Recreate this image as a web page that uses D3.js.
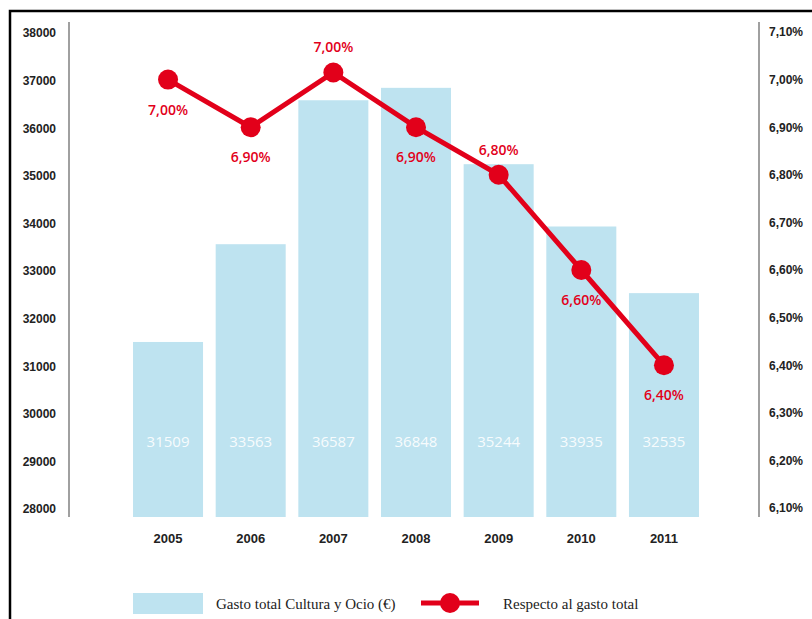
<!DOCTYPE html>
<html lang="es">
<head>
<meta charset="UTF-8">
<title>Gasto Cultura y Ocio</title>
<style>
	body { margin: 0; background: #fff; }
	svg { display: block; font-family: "Open Sans", sans-serif; }
	.tick text { font-size: 12px; font-weight: 600; fill: #222; }
	.legend text { font-family: "Liberation Serif", serif; font-size: 15px; fill: #222; }
</style>
</head>
<body>
<svg></svg>
<script src="https://cdnjs.cloudflare.com/ajax/libs/d3/7.8.5/d3.min.js"></script>
<script>
	// data
	const years = ['2005', '2006', '2007', '2008', '2009', '2010', '2011'];
	const gasto = [31509, 33563, 36587, 36848, 35244, 33935, 32535];
	const porcentaje = [7.00, 6.90, 7.015, 6.90, 6.80, 6.60, 6.40];
	const porcentajeLabels = ['7,00%', '6,90%', '7,00%', '6,90%', '6,80%', '6,60%', '6,40%'];
	const leftTicks = [28000, 29000, 30000, 31000, 32000, 33000, 34000, 35000, 36000, 37000, 38000];
	const rightTicks = [6.1, 6.2, 6.3, 6.4, 6.5, 6.6, 6.7, 6.8, 6.9, 7.0, 7.1];
	const seriesNames = ['Gasto total Cultura y Ocio (€)', 'Respecto al gasto total'];

	const width = 812, height = 619;
	const barColor = '#bee3f0', red = '#e2001a';
	const plotTop = 22, plotBottom = 517, axisL = 69, axisR = 759;

	const svg = d3.select('svg').attr('width', width).attr('height', height);

	// frame
	svg.append('rect')
		.attr('x', 10).attr('y', 11)
		.attr('width', 820).attr('height', 640)
		.attr('fill', 'none').attr('stroke', '#000').attr('stroke-width', 2.5);

	const x = d3.scaleBand().domain(years).range([126.7, 705.3]).paddingInner(0.153).paddingOuter(0.0765);
	const yL = d3.scaleLinear().domain([28000, 38000]).range([509, 33]);
	const yR = d3.scaleLinear().domain([6.1, 7.1]).range([508, 32]);

	// bars
	svg.append('g').selectAll('rect')
		.data(years)
		.join('rect')
		.attr('x', d => x(d))
		.attr('width', x.bandwidth())
		.attr('y', (d, i) => yL(gasto[i]))
		.attr('height', (d, i) => plotBottom - yL(gasto[i]))
		.attr('fill', barColor);

	svg.append('g').selectAll('text')
		.data(years)
		.join('text')
		.attr('x', d => x(d) + x.bandwidth() / 2)
		.attr('y', 442)
		.attr('dy', '0.35em')
		.attr('text-anchor', 'middle')
		.attr('fill', '#fff')
		.attr('fill-opacity', 0.9)
		.style('font-size', '15px')
		.text((d, i) => gasto[i]);

	// axes
	const leftAxis = svg.append('g')
		.attr('transform', `translate(${axisL - 13},0)`)
		.call(d3.axisLeft(yL).tickValues(leftTicks).tickSize(0).tickPadding(0).tickFormat(d3.format('d')));
	leftAxis.select('.domain').remove();

	const rightAxis = svg.append('g')
		.attr('transform', `translate(${axisR + 10},0)`)
		.call(d3.axisRight(yR).tickValues(rightTicks).tickSize(0).tickPadding(0)
			.tickFormat(v => v.toFixed(2).replace('.', ',') + '%'));
	rightAxis.select('.domain').remove();

	[axisL, axisR].forEach(ax => {
		svg.append('line')
			.attr('x1', ax).attr('x2', ax)
			.attr('y1', plotTop).attr('y2', plotBottom)
			.attr('stroke', '#a0a0a0').attr('stroke-width', 2);
	});

	const xAxis = svg.append('g')
		.attr('transform', `translate(0,${538})`)
		.call(d3.axisBottom(x).tickSize(0).tickPadding(0));
	xAxis.select('.domain').remove();
	xAxis.selectAll('.tick text').attr('dy', '0.35em').style('font-size', '13px');

	// line
	const cx = i => x(years[i]) + x.bandwidth() / 2;
	const line = d3.line().x((d, i) => cx(i)).y(d => yR(d));
	svg.append('path')
		.datum(porcentaje)
		.attr('d', line)
		.attr('fill', 'none')
		.attr('stroke', red)
		.attr('stroke-width', 5);

	svg.append('g').selectAll('circle')
		.data(porcentaje)
		.join('circle')
		.attr('cx', (d, i) => cx(i))
		.attr('cy', d => yR(d))
		.attr('r', 10)
		.attr('fill', red);

	// labels above the point where the line peaks, below elsewhere
	const above = i => i === 2 || i === 4;
	svg.append('g').selectAll('text')
		.data(porcentaje)
		.join('text')
		.attr('x', (d, i) => cx(i))
		.attr('y', (d, i) => yR(d) + (above(i) ? -25 : 30))
		.attr('dy', '0.35em')
		.attr('text-anchor', 'middle')
		.attr('fill', red)
		.style('font-size', '14px')
		.style('font-weight', 600)
		.text((d, i) => porcentajeLabels[i]);

	// legend
	const legend = svg.append('g').attr('class', 'legend');
	legend.append('rect')
		.attr('x', 133).attr('y', 593).attr('width', 70).attr('height', 21)
		.attr('fill', barColor);
	legend.append('text').attr('x', 216).attr('y', 604).attr('dy', '0.35em').text(seriesNames[0]);
	legend.append('line')
		.attr('x1', 421).attr('x2', 479).attr('y1', 603).attr('y2', 603)
		.attr('stroke', red).attr('stroke-width', 5);
	legend.append('circle').attr('cx', 450).attr('cy', 603).attr('r', 10).attr('fill', red);
	legend.append('text').attr('x', 503).attr('y', 604).attr('dy', '0.35em').text(seriesNames[1]);
</script>
</body>
</html>
